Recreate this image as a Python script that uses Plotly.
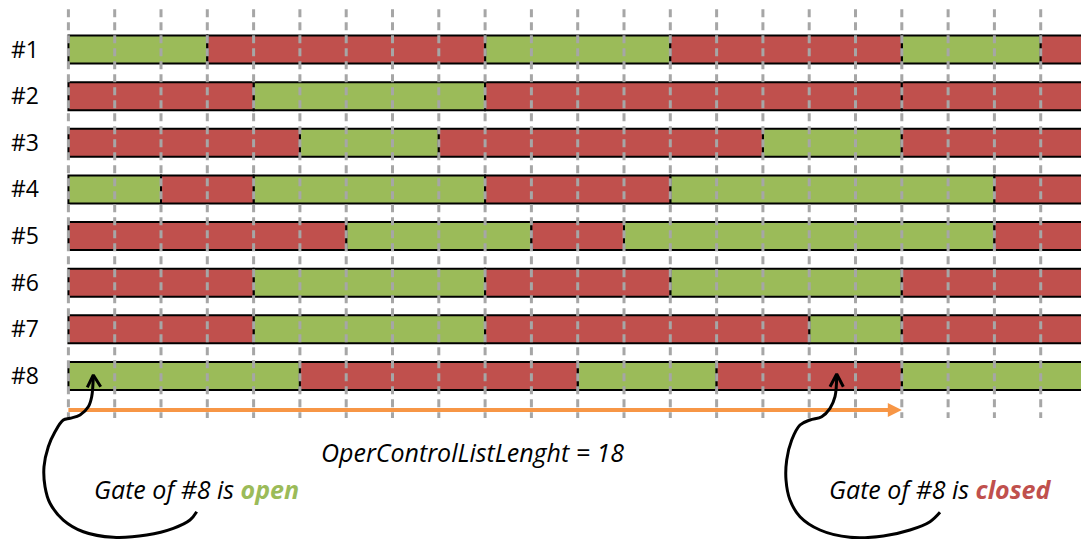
import plotly.graph_objects as go

# ---------------- data ----------------
GATES = ["#1", "#2", "#3", "#4", "#5", "#6", "#7", "#8"]
TIME_SLOTS = list(range(23))          # slot boundaries 0..22
CYCLE_LENGTH = 18                     # OperControlListLenght

# gate schedules: (state, number of slots)
gate_1 = [("open", 3), ("closed", 6), ("open", 4), ("closed", 5), ("open", 3), ("closed", 1)]
gate_2 = [("closed", 4), ("open", 5), ("closed", 9), ("closed", 4)]
gate_3 = [("closed", 5), ("open", 3), ("closed", 7), ("open", 3), ("closed", 4)]
gate_4 = [("open", 2), ("closed", 2), ("open", 5), ("closed", 4), ("open", 7), ("closed", 2)]
gate_5 = [("closed", 6), ("open", 4), ("closed", 2), ("open", 8), ("closed", 2)]
gate_6 = [("closed", 4), ("open", 5), ("closed", 4), ("open", 5), ("closed", 4)]
gate_7 = [("closed", 4), ("open", 5), ("closed", 7), ("open", 2), ("closed", 4)]
gate_8 = [("open", 5), ("closed", 6), ("open", 3), ("closed", 4), ("open", 4)]
SCHEDULES = [gate_1, gate_2, gate_3, gate_4, gate_5, gate_6, gate_7, gate_8]

# callout curves (x in slots, y in row units)
left_curve_x = [0.538, 0.503, 0.430, 0.251, 0.035, -0.110, -0.289, -0.434, -0.527, -0.505,
                -0.397, -0.110, 0.322, 0.970, 1.691, 2.266, 2.626, 2.771]
left_curve_y = [7.00, 7.444, 7.659, 7.837, 7.907, 7.944, 8.195, 8.516, 8.945, 9.374,
                9.730, 10.088, 10.339, 10.459, 10.410, 10.266, 10.088, 9.910]
left_head_x = [0.408, 0.538, 0.698]
left_head_y = [7.243, 6.979, 7.230]

right_curve_x = [16.594, 16.557, 16.449, 16.270, 16.017, 15.801, 15.622, 15.514, 15.499, 15.585,
                 15.801, 16.233, 16.881, 17.600, 18.177, 18.609, 18.825]
right_curve_y = [7.00, 7.444, 7.693, 7.873, 7.944, 8.051, 8.373, 8.802, 9.230, 9.659,
                 10.017, 10.302, 10.459, 10.431, 10.302, 10.124, 9.923]
right_head_x = [16.449, 16.594, 16.737]
right_head_y = [7.230, 6.958, 7.230]

# ---------------- style ----------------
GREEN = "#9BBB59"
RED = "#C0504D"
ORANGE = "#F79646"
GRID = "#A6A6A6"
FONT = "Open Sans"

GRID_TOP, GRID_BOTTOM = -0.862, 7.90
ARROW_ROW = 7.73

fig = go.Figure()

for state, color in (("open", GREEN), ("closed", RED)):
    ys, bases, lens = [], [], []
    for row, sched in enumerate(SCHEDULES):
        t = 0
        for st, ln in sched:
            if st == state:
                ys.append(row)
                bases.append(t)
                lens.append(ln)
            t += ln
    fig.add_trace(go.Bar(
        orientation="h", y=ys, x=lens, base=bases, width=0.6,
        marker=dict(color=color, line=dict(color="black", width=2)),
        showlegend=False, hoverinfo="skip"))

# orange cycle-length arrow
fig.add_trace(go.Scatter(
    x=[0, CYCLE_LENGTH - 0.15], y=[ARROW_ROW, ARROW_ROW], mode="lines",
    line=dict(color=ORANGE, width=4), showlegend=False, hoverinfo="skip"))
fig.add_trace(go.Scatter(
    x=[CYCLE_LENGTH], y=[ARROW_ROW], mode="markers",
    marker=dict(symbol="arrow-right", size=14, color=ORANGE, line=dict(width=0)),
    showlegend=False, hoverinfo="skip"))

# dashed grid lines on top
gx, gy = [], []
for k in TIME_SLOTS:
    gx += [k, k, None]
    gy += [GRID_TOP, GRID_BOTTOM, None]
fig.add_trace(go.Scatter(
    x=gx, y=gy, mode="lines",
    line=dict(color=GRID, width=3, dash="8px,5px"),
    showlegend=False, hoverinfo="skip"))

# callout curves
for cx, cy, hx, hy in ((left_curve_x, left_curve_y, left_head_x, left_head_y),
                       (right_curve_x, right_curve_y, right_head_x, right_head_y)):
    fig.add_trace(go.Scatter(
        x=cx, y=cy, mode="lines",
        line=dict(color="black", width=3, shape="spline", smoothing=1.0),
        showlegend=False, hoverinfo="skip"))
    fig.add_trace(go.Scatter(
        x=hx, y=hy, mode="lines",
        line=dict(color="black", width=3),
        showlegend=False, hoverinfo="skip"))

fig.add_annotation(x=8.73, y=8.62, xref="x", yref="y", showarrow=False,
                   text="<i>OperControlListLenght = 18</i>",
                   font=dict(family=FONT, size=25, color="black"))
fig.add_annotation(x=2.76, y=9.42, xref="x", yref="y", showarrow=False,
                   text=f"<i>Gate of #8 is <b><span style='color:{GREEN}'>open</span></b></i>",
                   font=dict(family=FONT, size=25, color="black"))
fig.add_annotation(x=18.82, y=9.42, xref="x", yref="y", showarrow=False,
                   text=f"<i>Gate of #8 is <b><span style='color:{RED}'>closed</span></b></i>",
                   font=dict(family=FONT, size=25, color="black"))

# page body has an 8px margin, so the figure is 8px smaller than the window
fig.update_layout(
    width=1081, height=531,
    margin=dict(l=0, r=0, t=0, b=0),
    paper_bgcolor="white", plot_bgcolor="white",
    barmode="overlay", showlegend=False,
    xaxis=dict(range=[-1.3045, 22.043], showgrid=False, zeroline=False,
               showticklabels=False, ticks="", showline=False, fixedrange=True),
    yaxis=dict(range=[10.495, -0.890], showgrid=False, zeroline=False,
               tickvals=list(range(len(GATES))), ticktext=GATES, ticks="",
               ticklabelposition="inside", ticklabelstandoff=0, showline=False,
               tickfont=dict(family=FONT, size=23, color="black"), fixedrange=True),
)

fig.write_html("out.html")
